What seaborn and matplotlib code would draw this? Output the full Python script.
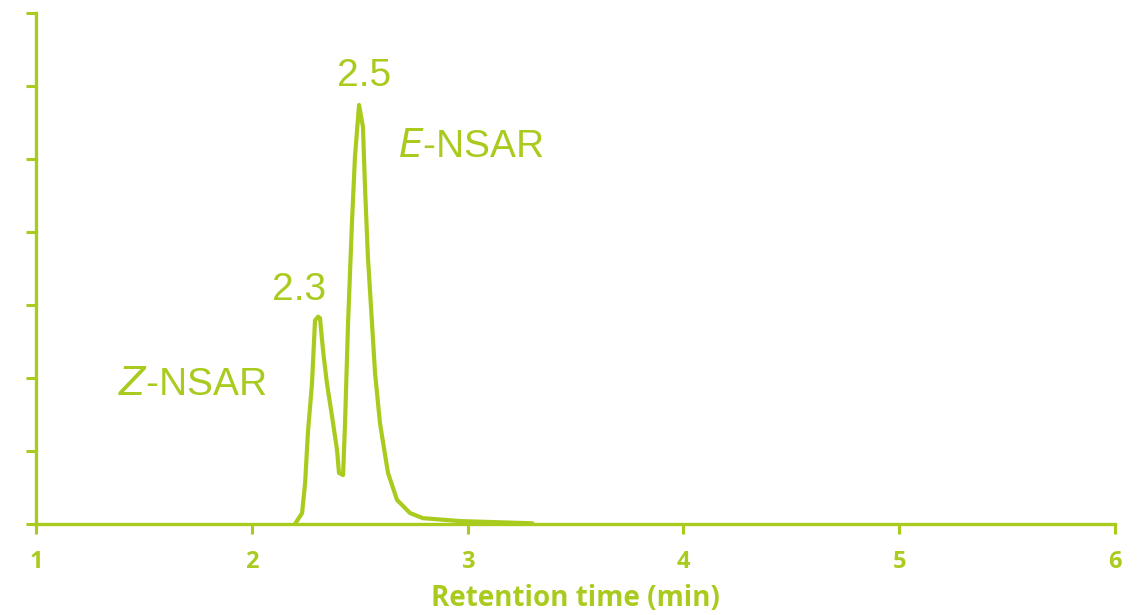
import matplotlib
matplotlib.use("Agg")
import matplotlib.pyplot as plt
import seaborn as sns
import pandas as pd

# Chromatogram trace
retention_time = [2.200, 2.233, 2.247, 2.260, 2.279, 2.293, 2.307, 2.316, 2.330, 2.348,
                  2.372, 2.395, 2.404, 2.423, 2.432, 2.446, 2.464, 2.478, 2.497, 2.515,
                  2.525, 2.538, 2.557, 2.571, 2.594, 2.631, 2.673, 2.733, 2.793, 2.965,
                  3.30]
signal = [0.0, 0.15, 0.56, 1.25, 1.93, 2.79, 2.84, 2.82, 2.38, 1.93,
          1.47, 1.01, 0.70, 0.67, 1.38, 2.75, 4.12, 5.03, 5.74, 5.44,
          4.58, 3.66, 2.75, 2.07, 1.38, 0.70, 0.33, 0.15, 0.08, 0.04,
          0.01]
x_ticks = [1, 2, 3, 4, 5, 6]
y_ticks = [0, 1, 2, 3, 4, 5, 6, 7]
x_label = "Retention time (min)"

GREEN = "#A8CB1E"

df = pd.DataFrame({"t": retention_time, "s": signal})

sns.set_style("white")
plt.rcParams['font.family'] = ['Liberation Sans', 'DejaVu Sans']

fig = plt.figure(figsize=(11.41, 6.15), dpi=100)
ax = fig.add_axes([36/1141, 91/615, (1115-36)/1141, (524-13)/615])

sns.lineplot(data=df, x="t", y="s", ax=ax, color=GREEN, linewidth=3.0, clip_on=False)

ax.set_xlim(1, 6)
ax.set_ylim(0, 7)
ax.set_xticks(x_ticks)
ax.set_xticklabels([str(v) for v in x_ticks], family=['Open Sans', 'DejaVu Sans'],
                   fontweight='bold', fontsize=17, color=GREEN)
ax.set_yticks(y_ticks)
ax.set_yticklabels([])
ax.tick_params(axis='x', bottom=True, direction='out', length=7, width=2.2, color=GREEN, pad=12)
ax.tick_params(axis='y', left=True, direction='out', length=7, width=2.2, color=GREEN)

for side in ['top', 'right']:
    ax.spines[side].set_visible(False)
for side in ['left', 'bottom']:
    ax.spines[side].set_color(GREEN)
    ax.spines[side].set_linewidth(2.4)

ax.set_xlabel(x_label, family=['Open Sans', 'DejaVu Sans'], fontweight='bold',
              fontsize=20, color=GREEN, labelpad=7)
ax.set_ylabel("")

ax.text(2.52, 6.14, "2.5", fontsize=28, color=GREEN, ha='center', va='center')
ax.text(2.22, 3.2, "2.3", fontsize=28, color=GREEN, ha='center', va='center')
ax.text(2.677, 5.16, r"$\mathit{E}$-NSAR", fontsize=28, color=GREEN, ha='left', va='center')
ax.text(1.38, 1.9, r"$\mathit{Z}$-NSAR", fontsize=28, color=GREEN, ha='left', va='center')

fig.savefig("out.png", dpi=100, facecolor="white")
